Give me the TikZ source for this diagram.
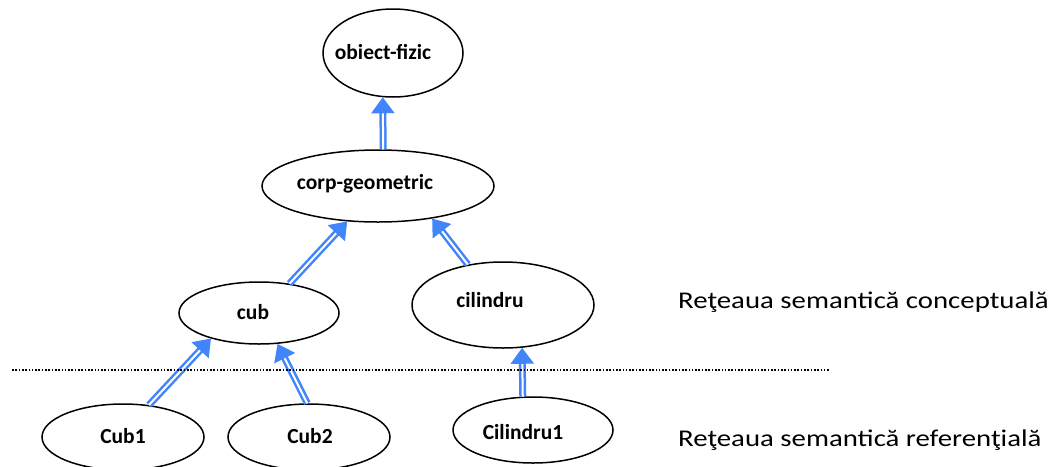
\documentclass[tikz,border=0pt]{standalone}
\usepackage{fontspec}
\setmainfont{Carlito}
\usetikzlibrary{arrows.meta,shapes.geometric}
\definecolor{linkblue}{RGB}{66,133,250}
\begin{document}
\begin{tikzpicture}[x=1pt,y=-1pt,
  concept/.style={ellipse, draw, line width=1.5pt, inner sep=0pt},
  lbl/.style={font=\fontsize{21.5}{26}\selectfont\bfseries, inner sep=0pt},
  note/.style={font=\fontsize{24}{29}\selectfont, anchor=west, inner sep=0pt},
  isa/.style={draw=linkblue, double=white, line width=2.5pt, double distance=2pt,
              -{Triangle[length=16pt,width=23pt]}},
  sep/.style={line width=1.6pt, dash pattern=on 1.6pt off 1.7pt}
]
\useasboundingbox (0,0) rectangle (1062,466);

% conceptual level
\node[concept, minimum width=140pt, minimum height=88pt] (obj)  at (393,53)  {};
\node[concept, minimum width=232pt, minimum height=72pt] (corp) at (378,186) {};
\node[concept, minimum width=160pt, minimum height=62pt] (cub)  at (259,313) {};
\node[concept, minimum width=182pt, minimum height=86pt] (cil)  at (503,305) {};

% referential level
\node[concept, minimum width=162pt, minimum height=66pt] (cub1) at (123,437) {};
\node[concept, minimum width=162pt, minimum height=66pt] (cub2) at (309,437) {};
\node[concept, minimum width=160pt, minimum height=66pt] (cil1) at (533,430) {};

% labels
\node[lbl] (obj-t)  at (383,52)  {obiect-fizic};
\node[lbl] (corp-t) at (365,184) {corp-geometric};
\node[lbl] (cub-t)  at (253,312) {cub};
\node[lbl] (cil-t)  at (490,300) {cilindru};
\node[lbl] (cub1-t) at (123,436) {Cub1};
\node[lbl] (cub2-t) at (310,436) {Cub2};
\node[lbl] (cil1-t) at (523,432) {Cilindru1};

% is-a links
\draw[isa] (corp.82)  -- (obj.257);
\draw[isa] (cub.44)   -- (corp.229);
\draw[isa] (cil.131)  -- (corp.329);
\draw[isa] (cub1.51)  -- (cub.208);
\draw[isa] (cub2.93)  -- (cub.301);
\draw[isa] (cil1.107) -- (cil.294);

% level separator
\coordinate (sepL) at (12,370);
\coordinate (sepR) at (830,370);
\draw[sep] (sepL) -- (sepR);

% level names
\node[note] (conc) at (678,302) {\scalebox{1.2}[1]{Reţeaua semantică conceptuală}};
\node[note] (ref)  at (678,440) {\scalebox{1.2}[1]{Reţeaua semantică referenţială}};
\end{tikzpicture}
\end{document}
